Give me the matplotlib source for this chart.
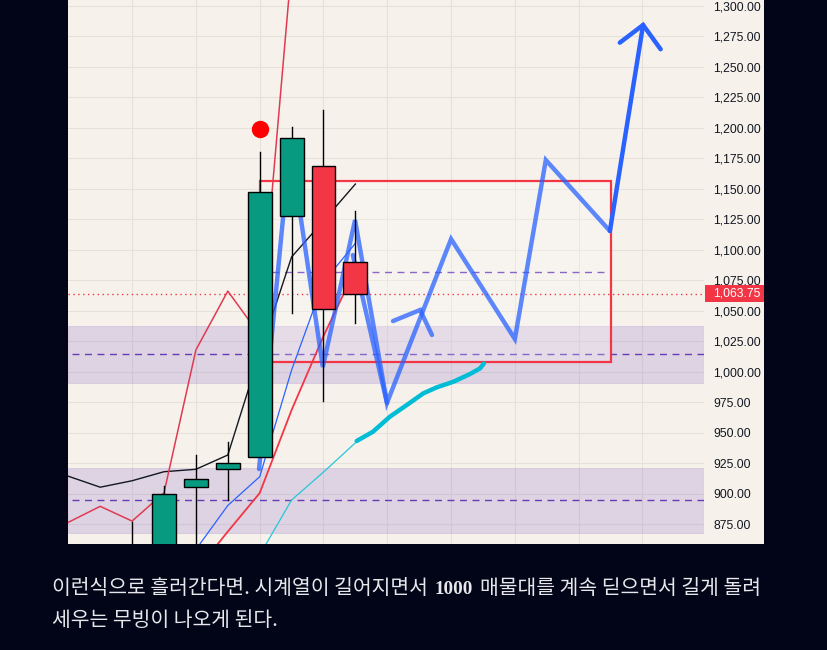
import matplotlib
matplotlib.use("Agg")
import matplotlib.pyplot as plt
from matplotlib.patches import Rectangle
from matplotlib.transforms import blended_transform_factory
import numpy as np

# ---------------- data ----------------
candle_idx = [-1, 0, 1, 2, 3, 4, 5, 6]
candle_open = [855.0, 845.0, 905.1, 919.9, 929.7, 1127.4, 1168.5, 1089.7]
candle_high = [876.6, 906.0, 931.6, 942.0, 1180.2, 1200.7, 1214.7, 1131.8]
candle_low = [840.0, 840.0, 850.0, 894.7, 929.7, 1047.9, 976.2, 1039.6]
candle_close = [845.0, 899.4, 911.7, 924.8, 1147.6, 1191.4, 1051.4, 1063.75]

ma_black_x = [-3, -2, -1, 0, 1, 2, 3, 4, 5, 6]
ma_black_y = [914.2, 905.2, 910.5, 917.9, 919.9, 931.6, 1014.8, 1094.1, 1123.7, 1153.9]

red_fast_x = [-3, -2, -1, 0, 1, 2, 3, 4]
red_fast_y = [876.4, 889.5, 877.4, 900.6, 1017.8, 1066.1, 1030.1, 1332.8]

red_slow_x = [1, 2, 3, 4, 5, 6]
red_slow_y = [836.4, 868.8, 900.4, 968.5, 1029.2, 1083.8]

blue_thin_x = [1, 2, 3, 4, 5, 6]
blue_thin_y = [854.1, 890.2, 913.8, 1001.3, 1073.5, 1105.3]

cyan_thin_x = [3, 4, 5, 6]
cyan_thin_y = [849.5, 894.7, 917.6, 941.6]

# hand drawn projections
zig_x = [2.98, 3.95, 4.98, 5.99, 6.99, 9.0, 11.0, 11.97, 13.98]
zig_y = [920.1, 1185.9, 1003.8, 1124.4, 974.3, 1108.8, 1026.8, 1173.6, 1115.4]
zig2_x = [5.92, 6.99]
zig2_y = [1095.7, 974.3]
small_arrow_x = [7.18, 8.03, 8.40]
small_arrow_y = [1041.5, 1050.6, 1030.1]
big_arrow_x = [13.98, 15.02]
big_arrow_y = [1115.4, 1284.4]
big_head_x = [14.29, 15.02, 15.57]
big_head_y = [1269.9, 1284.4, 1264.5]

cyan_draw_x = [6.04, 6.55, 7.08, 7.61, 8.13, 8.55, 9.07, 9.59, 9.91, 10.03]
cyan_draw_y = [943.1, 950.7, 963.0, 972.6, 982.2, 987.1, 991.7, 998.0, 1002.7, 1006.8]

zones = [(990.9, 1037.4), (867.3, 920.8)]
zone_mid_lines = [1014.2, 894.6]
upper_dash_level = 1081.5
upper_dash_span = (3.4, 13.82)
box_x = (3.0, 14.01)
box_y = (1007.6, 1156.4)
signal_dot = (3.0, 1199.1)
last_price = 1063.75

y_ticks = [875, 900, 925, 950, 975, 1000, 1025, 1050, 1075, 1100, 1125, 1150,
           1175, 1200, 1225, 1250, 1275, 1300]

caption_1a = "이런식으로 흘러간다면. 시계열이 길어지면서"
caption_1b = "1000"
caption_1c = "매물대를 계속 딛으면서 길게 돌려"
caption_2 = "세우는 무빙이 나오게 된다."

# ---------------- figure ----------------
W, H = 828, 650
DARK = "#020518"
CREAM = "#f6f2eb"
fig = plt.figure(figsize=(W / 100, H / 100), dpi=100, facecolor=DARK)

# cream panel including price scale
fig.patches.append(Rectangle((68 / W, (H - 544) / H), (764 - 68) / W, 544 / H,
                             transform=fig.transFigure, facecolor=CREAM,
                             edgecolor="none", zorder=-10))

ax = fig.add_axes([68 / W, (H - 544) / H, (704 - 68) / W, 544 / H])
ax.set_zorder(1)
ax.set_facecolor(CREAM)
ax.set_xlim(-3.01, 16.93)
ax.set_ylim(858.6, 1304.9)
for s in ax.spines.values():
    s.set_visible(False)

# grid
ax.set_xticks(np.arange(-1, 17, 2))
ax.set_xticklabels([])
ax.tick_params(axis="x", length=0)
ax.set_yticks(y_ticks)
ax.set_yticklabels([f"{v:,.2f}" for v in y_ticks])
ax.yaxis.tick_right()
ax.tick_params(axis="y", length=0, pad=6.5, labelsize=8.8, labelcolor="#131722")
for lab in ax.get_yticklabels():
    lab.set_fontfamily("Liberation Sans")
ax.grid(True, color="#e6e2da", linewidth=0.8, zorder=0)
ax.set_axisbelow(True)

# zones
for lo, hi in zones:
    ax.axhspan(lo, hi, facecolor="#7e57c2", alpha=0.2, edgecolor="#9575cd",
               linewidth=0.8, zorder=1)
for lvl in zone_mid_lines:
    ax.plot([-2.88, 16.93], [lvl, lvl], color="#673ab7", lw=1.0,
            dashes=(5, 4), zorder=2)
ax.plot(list(upper_dash_span), [upper_dash_level] * 2, color="#673ab7", lw=1.0,
        dashes=(5, 4), zorder=2)

# box
ax.add_patch(Rectangle((box_x[0], box_y[0]), box_x[1] - box_x[0], box_y[1] - box_y[0],
                       facecolor=(1, 1, 1, 0.22), edgecolor="#f23645", lw=1.6, zorder=2))

# last price dotted line
ax.axhline(last_price, color="#f23645", lw=1.0, dashes=(1, 2.5), zorder=2)

# indicator lines
ax.plot(ma_black_x, ma_black_y, color="#131722", lw=1.0, zorder=3)
ax.plot(red_fast_x, red_fast_y, color="#e03a52", lw=1.1, zorder=3)
ax.plot(red_slow_x, red_slow_y, color="#f23645", lw=1.3, zorder=3)
ax.plot(blue_thin_x, blue_thin_y, color="#2962ff", lw=0.9, zorder=3)
ax.plot(cyan_thin_x, cyan_thin_y, color="#26c6da", lw=0.9, zorder=3)

# drawings
zkw = dict(color="#2962ff", alpha=0.75, lw=3.2, solid_capstyle="round",
           solid_joinstyle="miter", zorder=4)
ax.plot(zig_x, zig_y, **zkw)
ax.plot(zig2_x, zig2_y, **zkw)
ax.plot(small_arrow_x, small_arrow_y, **zkw)
ax.plot(big_arrow_x, big_arrow_y, color="#2962ff", lw=3.2, solid_capstyle="round", zorder=6)
ax.plot(big_head_x, big_head_y, color="#2962ff", lw=3.2, solid_capstyle="round",
        solid_joinstyle="miter", zorder=6)
ax.plot(cyan_draw_x, cyan_draw_y, color="#00bcd4", lw=3.2, solid_capstyle="round",
        zorder=6)

# candles
bw = 0.75
for i, o, h, l, c in zip(candle_idx, candle_open, candle_high, candle_low, candle_close):
    col = "#089981" if c >= o else "#f23645"
    ax.plot([i, i], [l, h], color="black", lw=1.0, zorder=5)
    ax.add_patch(Rectangle((i - bw / 2, min(o, c)), bw, abs(c - o), facecolor=col,
                           edgecolor="black", lw=1.0, zorder=5))

# signal dot
ax.plot([signal_dot[0]], [signal_dot[1]], "o", color="#ff0000", ms=11.5, zorder=7)

# last price label
bt = blended_transform_factory(fig.transFigure, ax.transData)
ax.add_patch(Rectangle((705 / W, last_price - 7.0), (764 - 705) / W, 14.0,
                       transform=bt, facecolor="#f23645", edgecolor="none",
                       clip_on=False, zorder=8))
ax.text(713 / W, last_price, f"{last_price:,.2f}", transform=bt, color="white",
        fontsize=8.8, family="Liberation Sans", va="center", ha="left",
        clip_on=False, zorder=9)

# caption
TXT = "#e8e8ec"
fam = ["Noto Sans CJK KR", "DejaVu Sans"]
fs = 14.7
renderer = fig.canvas.get_renderer()
y1 = 1 - 589 / H
y2 = 1 - 620 / H
x = 52
t = fig.text(x / W, y1, caption_1a, color=TXT, fontsize=fs, family=fam, va="center",
             weight="light")
bb = t.get_window_extent(renderer)
x = bb.x1 + 7
t = fig.text(x / W, y1, caption_1b, color=TXT, fontsize=fs - 1, family=["Liberation Serif"],
             weight="bold", va="center")
bb = t.get_window_extent(renderer)
x = bb.x1 + 7
t = fig.text(x / W, y1, caption_1c, color=TXT, fontsize=fs, family=fam, va="center",
             weight="light")
fig.text(52 / W, y2, caption_2, color=TXT, fontsize=fs, family=fam, va="center",
         weight="light")

fig.savefig("out.png", dpi=100, facecolor=DARK)
